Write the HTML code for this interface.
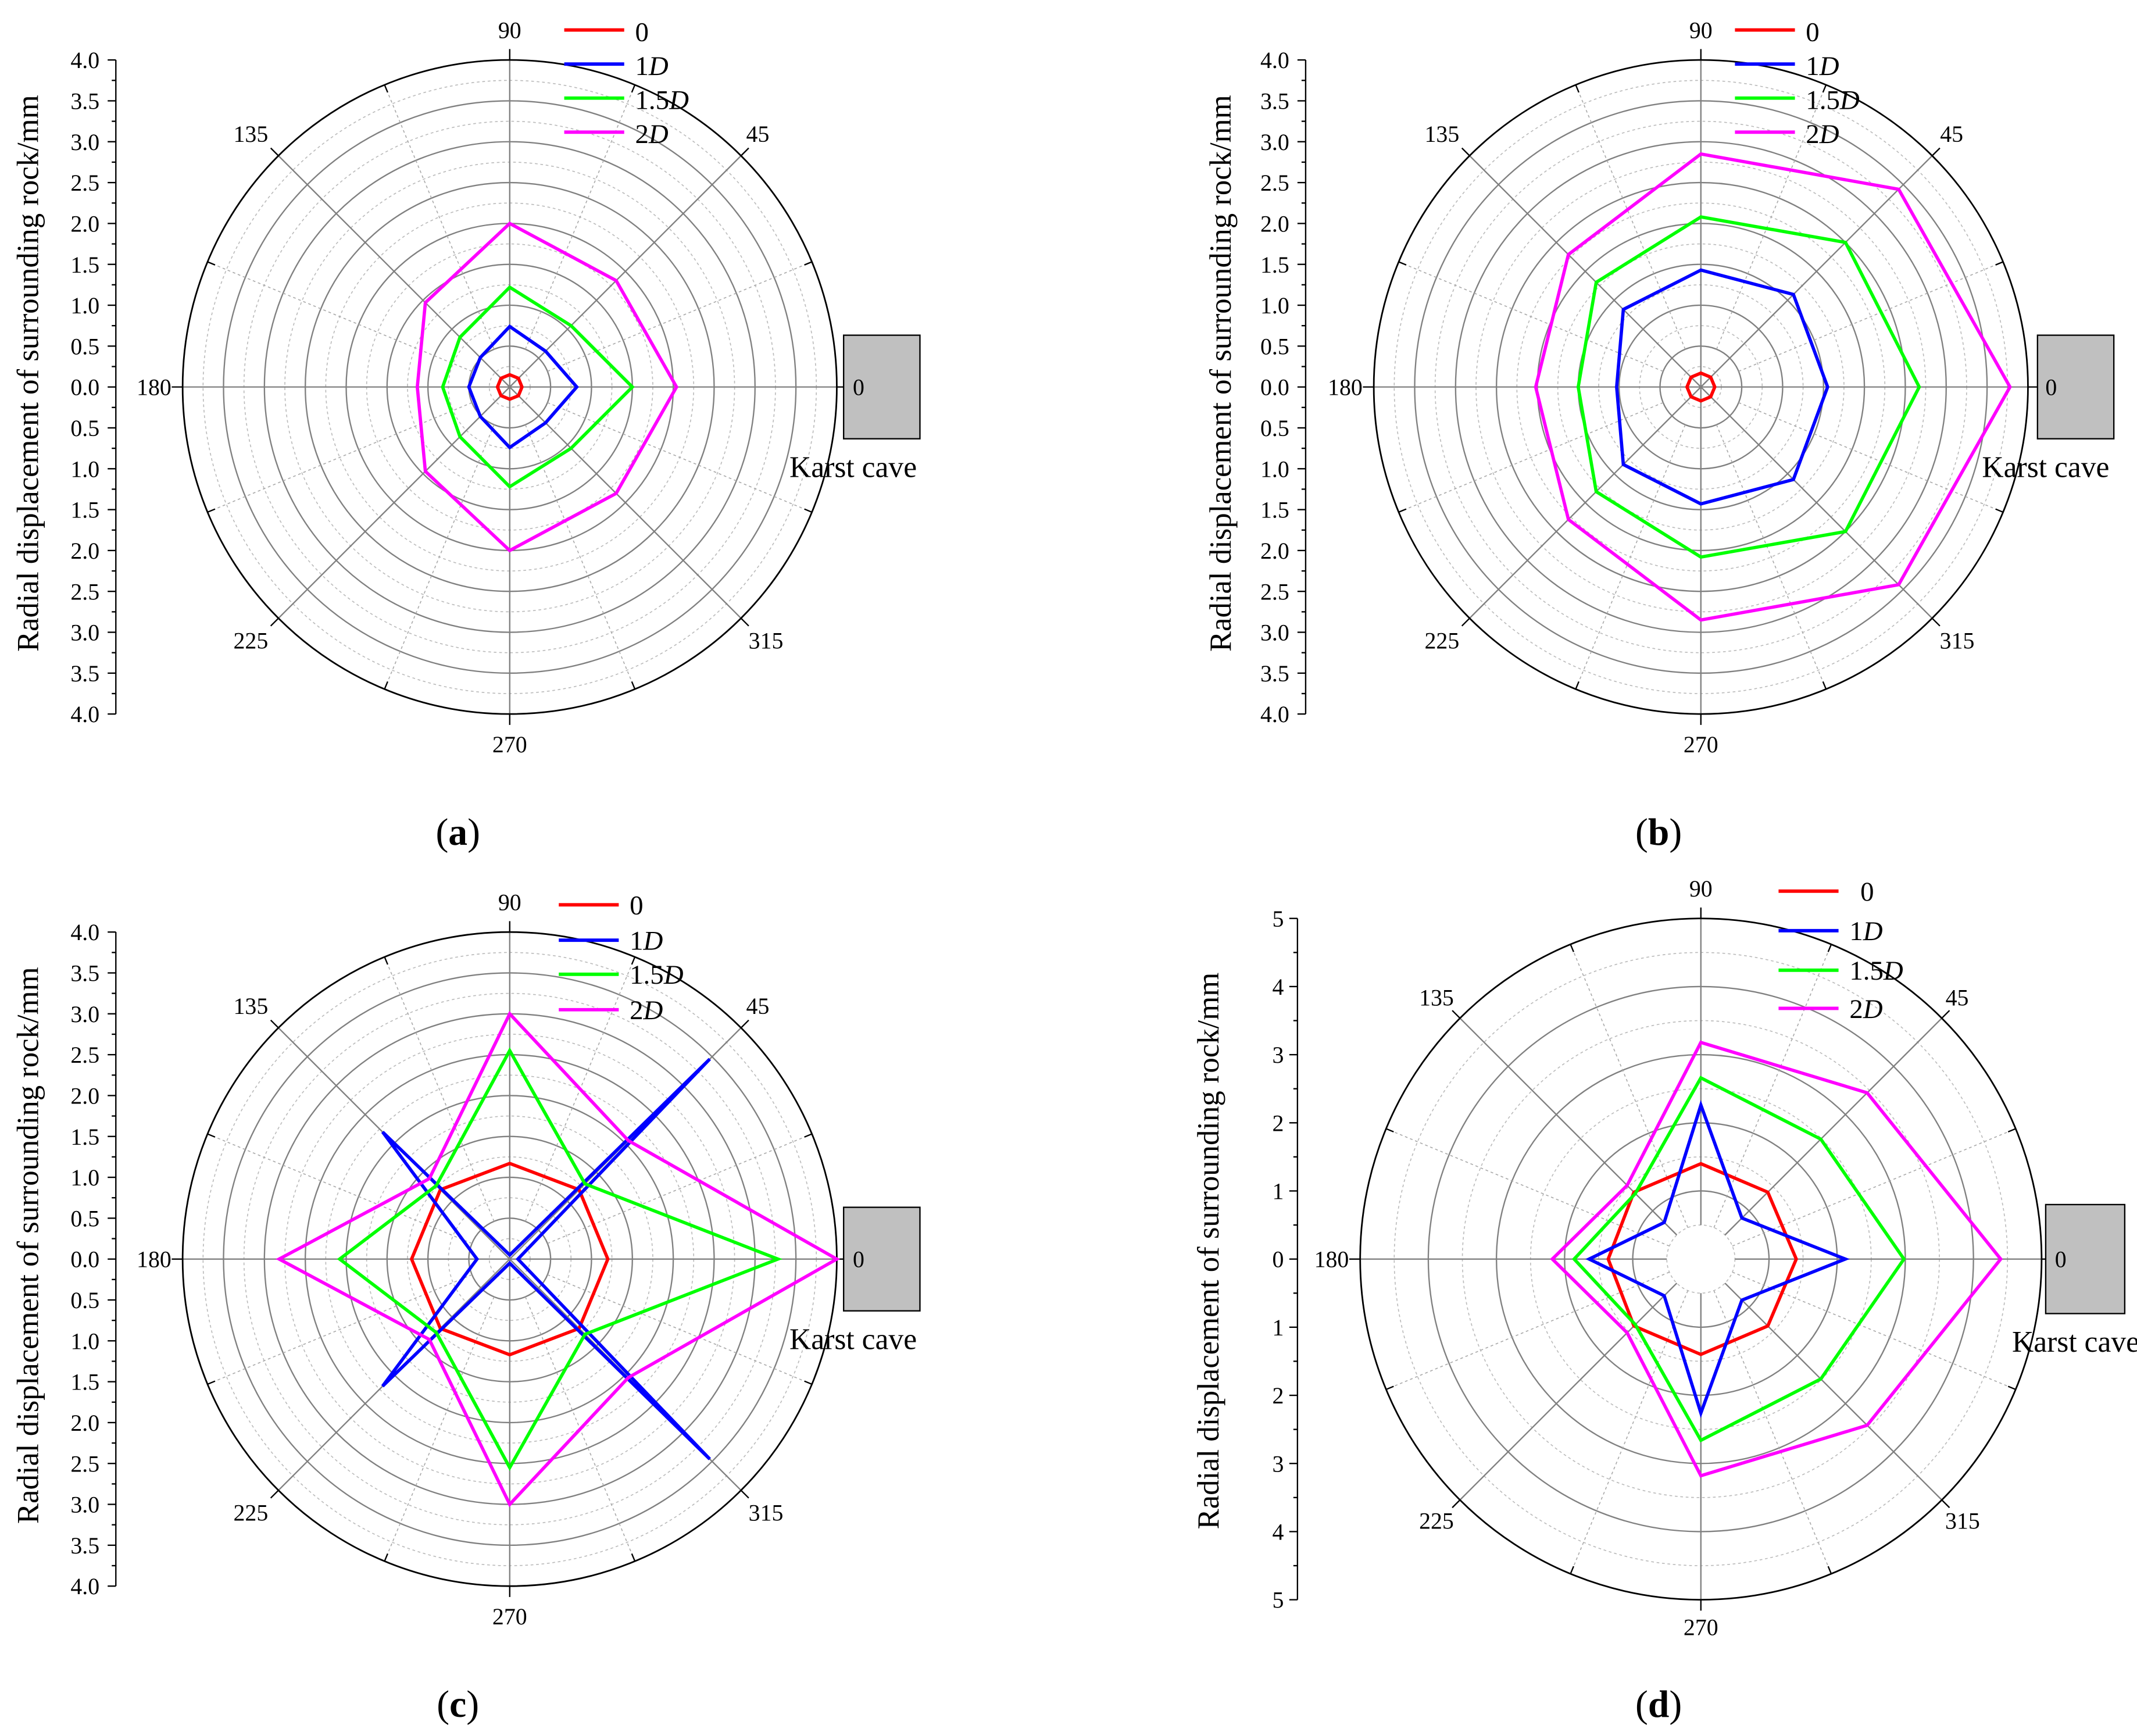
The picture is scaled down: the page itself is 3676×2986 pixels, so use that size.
<!DOCTYPE html>
<html><head><meta charset="utf-8">
<style>
html,body{margin:0;padding:0;background:#fff;}
svg{display:block;}
text{font-family:"Liberation Serif",serif;fill:#000;}
</style></head>
<body>
<svg id="s" xmlns="http://www.w3.org/2000/svg" width="3676" height="2986" viewBox="0 0 1568 1274" preserveAspectRatio="none">
<rect width="1568" height="1274" fill="#fff"/>
<g id="geo"></g>
<g font-size="17">
<text x="374" y="28" text-anchor="middle">90</text>
<text x="184" y="104" text-anchor="middle">135</text>
<text x="556" y="104" text-anchor="middle">45</text>
<text x="113" y="290" text-anchor="middle">180</text>
<text x="630" y="290" text-anchor="middle">0</text>
<text x="184" y="476" text-anchor="middle">225</text>
<text x="562" y="476" text-anchor="middle">315</text>
<text x="374" y="552" text-anchor="middle">270</text>
<text x="1248" y="28" text-anchor="middle">90</text>
<text x="1058" y="104" text-anchor="middle">135</text>
<text x="1432" y="104" text-anchor="middle">45</text>
<text x="987" y="290" text-anchor="middle">180</text>
<text x="1505" y="290" text-anchor="middle">0</text>
<text x="1058" y="476" text-anchor="middle">225</text>
<text x="1436" y="476" text-anchor="middle">315</text>
<text x="1248" y="552" text-anchor="middle">270</text>
<text x="374" y="668" text-anchor="middle">90</text>
<text x="184" y="744" text-anchor="middle">135</text>
<text x="556" y="744" text-anchor="middle">45</text>
<text x="113" y="930" text-anchor="middle">180</text>
<text x="630" y="930" text-anchor="middle">0</text>
<text x="184" y="1116" text-anchor="middle">225</text>
<text x="562" y="1116" text-anchor="middle">315</text>
<text x="374" y="1192" text-anchor="middle">270</text>
<text x="1248" y="658" text-anchor="middle">90</text>
<text x="1054" y="738" text-anchor="middle">135</text>
<text x="1436" y="738" text-anchor="middle">45</text>
<text x="977" y="930" text-anchor="middle">180</text>
<text x="1512" y="930" text-anchor="middle">0</text>
<text x="1054" y="1122" text-anchor="middle">225</text>
<text x="1440" y="1122" text-anchor="middle">315</text>
<text x="1248" y="1200" text-anchor="middle">270</text>
</g>
<g font-size="20">
<text x="466" y="30">0</text><text x="466" y="55">1<tspan font-style="italic">D</tspan></text><text x="466" y="80">1.5<tspan font-style="italic">D</tspan></text><text x="466" y="105">2<tspan font-style="italic">D</tspan></text>
<text x="1325" y="30">0</text><text x="1325" y="55">1<tspan font-style="italic">D</tspan></text><text x="1325" y="80">1.5<tspan font-style="italic">D</tspan></text><text x="1325" y="105">2<tspan font-style="italic">D</tspan></text>
<text x="462" y="671">0</text><text x="462" y="697">1<tspan font-style="italic">D</tspan></text><text x="462" y="722">1.5<tspan font-style="italic">D</tspan></text><text x="462" y="748">2<tspan font-style="italic">D</tspan></text>
<text x="1365" y="661">0</text><text x="1357" y="690">1<tspan font-style="italic">D</tspan></text><text x="1357" y="719">1.5<tspan font-style="italic">D</tspan></text><text x="1357" y="747">2<tspan font-style="italic">D</tspan></text>
</g>
<g font-size="22">
<text x="626" y="350" text-anchor="middle">Karst cave</text>
<text x="1501" y="350" text-anchor="middle">Karst cave</text>
<text x="626" y="990" text-anchor="middle">Karst cave</text>
<text x="1523" y="992" text-anchor="middle">Karst cave</text>
</g>
<g font-size="22.5">
<text transform="translate(28,274) rotate(-90)" text-anchor="middle">Radial displacement of surrounding rock/mm</text>
<text transform="translate(903,274) rotate(-90)" text-anchor="middle">Radial displacement of surrounding rock/mm</text>
<text transform="translate(28,914) rotate(-90)" text-anchor="middle">Radial displacement of surrounding rock/mm</text>
<text transform="translate(894,918) rotate(-90)" text-anchor="middle">Radial displacement of surrounding rock/mm</text>
</g>
<g font-size="28">
<text x="336" y="620" text-anchor="middle">(<tspan font-weight="bold">a</tspan>)</text>
<text x="1217" y="620" text-anchor="middle">(<tspan font-weight="bold">b</tspan>)</text>
<text x="336" y="1260" text-anchor="middle">(<tspan font-weight="bold">c</tspan>)</text>
<text x="1217" y="1260" text-anchor="middle">(<tspan font-weight="bold">d</tspan>)</text>
</g>
<g font-size="17" text-anchor="end">
<text x="73" y="50">4.0</text><text x="73" y="80">3.5</text><text x="73" y="110">3.0</text><text x="73" y="140">2.5</text><text x="73" y="170">2.0</text><text x="73" y="200">1.5</text><text x="73" y="230">1.0</text><text x="73" y="260">0.5</text><text x="73" y="290">0.0</text><text x="73" y="320">0.5</text><text x="73" y="350">1.0</text><text x="73" y="380">1.5</text><text x="73" y="410">2.0</text><text x="73" y="440">2.5</text><text x="73" y="470">3.0</text><text x="73" y="500">3.5</text><text x="73" y="530">4.0</text>
<text x="946" y="50">4.0</text><text x="946" y="80">3.5</text><text x="946" y="110">3.0</text><text x="946" y="140">2.5</text><text x="946" y="170">2.0</text><text x="946" y="200">1.5</text><text x="946" y="230">1.0</text><text x="946" y="260">0.5</text><text x="946" y="290">0.0</text><text x="946" y="320">0.5</text><text x="946" y="350">1.0</text><text x="946" y="380">1.5</text><text x="946" y="410">2.0</text><text x="946" y="440">2.5</text><text x="946" y="470">3.0</text><text x="946" y="500">3.5</text><text x="946" y="530">4.0</text>
<text x="73" y="690">4.0</text><text x="73" y="720">3.5</text><text x="73" y="750">3.0</text><text x="73" y="780">2.5</text><text x="73" y="810">2.0</text><text x="73" y="840">1.5</text><text x="73" y="870">1.0</text><text x="73" y="900">0.5</text><text x="73" y="930">0.0</text><text x="73" y="960">0.5</text><text x="73" y="990">1.0</text><text x="73" y="1020">1.5</text><text x="73" y="1050">2.0</text><text x="73" y="1080">2.5</text><text x="73" y="1110">3.0</text><text x="73" y="1140">3.5</text><text x="73" y="1170">4.0</text>
<text x="942" y="680">5</text><text x="942" y="730">4</text><text x="942" y="780">3</text><text x="942" y="830">2</text><text x="942" y="880">1</text><text x="942" y="930">0</text><text x="942" y="980">1</text><text x="942" y="1030">2</text><text x="942" y="1080">3</text><text x="942" y="1130">4</text><text x="942" y="1180">5</text>
</g>
</svg>
<script>
(function(){
var NS="http://www.w3.org/2000/svg",g=document.getElementById("geo");
function el(t,a){var e=document.createElementNS(NS,t);for(var k in a)e.setAttribute(k,a[k]);g.appendChild(e);return e;}
function panel(cx,cy,u,maxv,step,axX,box,legX,legY,data,hole){
  var R=u*maxv;
  for(var v=step/2;v<maxv;v+=step){el("circle",{cx:cx,cy:cy,r:v*u,fill:"none",stroke:"#bbb","stroke-width":0.7,"stroke-dasharray":"2,2"});}
  for(var v=step;v<maxv-1e-6;v+=step){el("circle",{cx:cx,cy:cy,r:v*u,fill:"none",stroke:"#808080","stroke-width":1});}
  for(var i=0;i<16;i++){
    var a=i*Math.PI/8,c=Math.cos(a),s=-Math.sin(a);
    if(i%2==0){var r0=hole?hole*u:0;el("line",{x1:cx+c*r0,y1:cy+s*r0,x2:cx+c*R,y2:cy+s*R,stroke:"#808080","stroke-width":1});
      el("line",{x1:cx+c*R,y1:cy+s*R,x2:cx+c*(R+8),y2:cy+s*(R+8),stroke:"#000","stroke-width":1});}
    else{var r1=(hole?hole:step)*u;el("line",{x1:cx+c*r1,y1:cy+s*r1,x2:cx+c*R,y2:cy+s*R,stroke:"#aaa","stroke-width":0.7,"stroke-dasharray":"2,2"});
      el("line",{x1:cx+c*(R-6),y1:cy+s*(R-6),x2:cx+c*R,y2:cy+s*R,stroke:"#000","stroke-width":1});}
  }
  el("circle",{cx:cx,cy:cy,r:R,fill:"none",stroke:"#000","stroke-width":1.2});
  el("line",{x1:axX,y1:cy-R,x2:axX,y2:cy+R,stroke:"#000","stroke-width":1});
  var n=Math.round(maxv/step*2);
  for(var j=0;j<=2*n;j++){var y=cy-R+j*R/n;el("line",{x1:axX,y1:y,x2:axX-(j%2==0?6:3),y2:y,stroke:"#000","stroke-width":1});}
  el("rect",{x:box[0],y:box[1],width:box[2],height:box[3],fill:"#c0c0c0",stroke:"#000","stroke-width":1});
  var cols=["#ff0000","#0000ff","#00ff00","#ff00ff"];
  for(var k=0;k<4;k++){
    el("line",{x1:legX,y1:legY[k],x2:legX+44,y2:legY[k],stroke:cols[k],"stroke-width":2.5});
    var d=data[k],pts=[];
    for(var m=0;m<8;m++){var a=m*Math.PI/4;pts.push((cx+Math.cos(a)*d[m]*u).toFixed(1)+","+(cy-Math.sin(a)*d[m]*u).toFixed(1));}
    el("polygon",{points:pts.join(" "),fill:"none",stroke:cols[k],"stroke-width":2.4,"stroke-linejoin":"miter"});
  }
}
function sym(v0,v45,v90,v135,v180){return [v0,v45,v90,v135,v180,v135,v90,v45];}
panel(374,284,60,4,0.5,85,[619,246,56,76],414,[22,47,72,97],[
 sym(.15,.15,.15,.15,.15),sym(.82,.62,.74,.51,.5),sym(1.5,1.06,1.22,.86,.82),sym(2.04,1.84,2.0,1.46,1.13)]);
panel(1248,284,60,4,0.5,958,[1495,246,56,76],1273,[22,47,72,97],[
 sym(.17,.17,.17,.17,.17),sym(1.55,1.6,1.43,1.34,1.03),sym(2.67,2.5,2.08,1.81,1.5),sym(3.78,3.42,2.85,2.29,2.02)]);
panel(374,924,60,4,0.5,85,[619,886,56,76],410,[664,690,715,741],[
 sym(1.2,1.2,1.17,1.2,1.2),sym(.1,3.46,.05,2.2,.4),sym(3.28,1.3,2.55,1.27,2.08),sym(4.0,2.05,3.0,1.39,2.82)]);
panel(1248,924,50,5,1,952,[1501,884,58,80],1305,[654,683,712,740],[
 sym(1.4,1.39,1.4,1.39,1.36),sym(2.12,.85,2.26,.76,1.64),sym(2.98,2.49,2.66,1.36,1.86),sym(4.4,3.45,3.18,1.53,2.18)],0.5);
})();
</script>
</body></html>
